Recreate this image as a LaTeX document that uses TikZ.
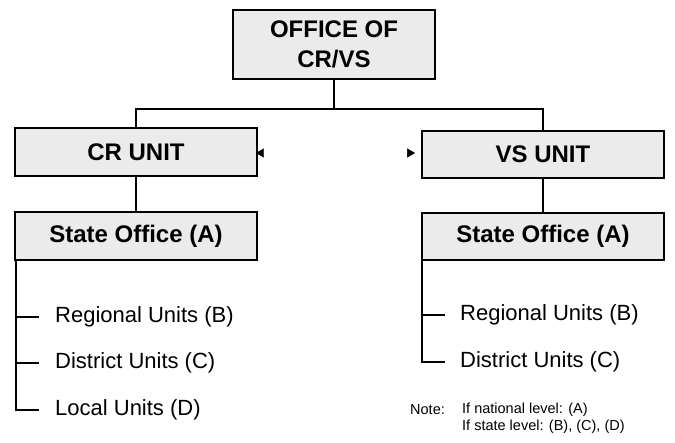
\documentclass[tikz,border=0pt]{standalone}
\usepackage{fontspec}
\setmainfont{Liberation Sans}
\usetikzlibrary{arrows.meta}
\begin{document}
\begin{tikzpicture}[x=1pt,y=-1pt,
  unitbox/.style={draw=black, line width=1.8pt, fill=gray!16, inner sep=0pt,
    font=\fontsize{24}{30}\selectfont\bfseries, align=center},
  link/.style={line width=1.4pt},
  leaf/.style={anchor=west, inner sep=0pt, font=\fontsize{22}{26}\selectfont},
  notetext/.style={anchor=west, inner sep=0pt, font=\fontsize{14.5}{17}\selectfont},
  tip/.tip={Triangle[black,length=8pt,width=9pt]}]
  \useasboundingbox (0,0) rectangle (675,442);

  % boxes
  \node[unitbox, minimum width=202pt, minimum height=69pt] (top) at (334,44.5) {OFFICE OF\\CR/VS};
  \node[unitbox, minimum width=242pt, minimum height=48pt] (cr) at (136,152) {CR UNIT};
  \node[unitbox, minimum width=242pt, minimum height=47pt] (vs) at (543,154.5) {VS UNIT};
  \node[unitbox, minimum width=242pt, minimum height=48pt] (sl) at (136,236) {State Office (A)};
  \node[unitbox, minimum width=242pt, minimum height=47pt] (sr) at (543,236.5) {State Office (A)};

  % top level links
  \coordinate (hub) at (334,109);
  \draw[link] (top.south) -- (hub);
  \draw[link] (cr.north) |- (hub) -| (vs.north);
  \draw[link] (cr.south) -- (sl.north);
  \draw[link] (vs.south) -- (sr.north);

  % link between units: only the arrow heads are printed
  \draw[white, line width=0.4pt, arrows={tip-tip},
    shorten <=-2pt, shorten >=6pt] (cr.east |- 0,153) -- (vs.west |- 0,153);

  % left sub-units
  \node[leaf] (l1) at (55,317) {Regional Units (B)};
  \node[leaf] (l2) at (55,363) {District Units (C)};
  \node[leaf] (l3) at (55,410) {Local Units (D)};
  \coordinate (lt) at (16,260);
  \draw[link] (lt) |- ([xshift=-16pt]l3.west);
  \draw[link] (16,317) -- ([xshift=-16pt]l1.west);
  \draw[link] (16,363) -- ([xshift=-16pt]l2.west);

  % right sub-units
  \node[leaf] (r1) at (460,315) {Regional Units (B)};
  \node[leaf] (r2) at (460,362) {District Units (C)};
  \coordinate (rt) at (422,260);
  \draw[link] (rt) |- ([xshift=-15pt]r2.west);
  \draw[link] (422,315) -- ([xshift=-15pt]r1.west);

  % note
  \node[notetext] (note) at (410,410) {Note:};
  \node[notetext] (n1) at (462,410) {If national level: (A)};
  \node[notetext] (n2) at (462,427) {If state level: (B), (C), (D)};
\end{tikzpicture}
\end{document}
